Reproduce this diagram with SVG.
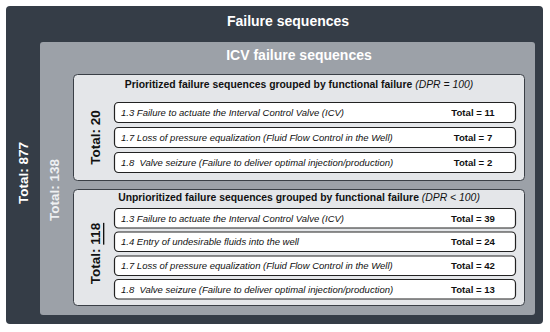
<svg xmlns="http://www.w3.org/2000/svg" width="550" height="332" viewBox="0 0 550 332">
<style>
text{font-family:"Liberation Sans",Arial,sans-serif}
.outer{fill:#353d47}
.gray{fill:#9ca1a8}
.group{fill:#e4e6e9;stroke:#3a3f46;stroke-width:1}
.row{fill:#ffffff;stroke:#222;stroke-width:1.2}
.t1{font-size:14px;font-weight:bold;fill:#fff;text-anchor:middle}
.tot{font-size:13.5px;font-weight:bold;text-anchor:middle;dominant-baseline:central}
.gt{font-size:10.4px;font-weight:bold;fill:#111;text-anchor:middle}
.it{font-style:italic;font-weight:normal}
.rt{font-size:9.5px;font-style:italic;fill:#111;white-space:pre}
.rv{font-size:9.6px;font-weight:bold;fill:#111;text-anchor:middle}
</style>
<g id="failure-sequences">
<rect class="outer" x="6" y="6" width="537" height="318" rx="4"/>
<text class="t1" x="288" y="26">Failure sequences</text>
<text class="tot" fill="#fff" transform="translate(23,173) rotate(-90)">Total: 877</text>
</g>
<g id="icv-failure-sequences">
<rect class="gray" x="40" y="42" width="495" height="273" rx="3"/>
<text class="t1" x="299" y="60">ICV failure sequences</text>
<text class="tot" fill="#eef0f2" transform="translate(54,190) rotate(-90)">Total: 138</text>
</g>
<g id="prioritized">
<rect class="group" x="73.5" y="74.5" width="451" height="106" rx="4"/>
<text class="gt" x="299" y="88">Prioritized failure sequences grouped by functional failure <tspan class="it">(DPR = 100)</tspan></text>
<text class="tot" fill="#111" transform="translate(95,137.5) rotate(-90)">Total: 20</text>
</g>
<g id="p-row1">
<rect class="row" x="114.5" y="102.5" width="401" height="20" rx="4"/>
<text class="rt" x="121" y="116">1.3 Failure to actuate the Interval Control Valve (ICV)</text>
<text class="rv" x="473" y="116">Total = 11</text>
</g>
<g id="p-row2">
<rect class="row" x="114.5" y="127.5" width="401" height="20" rx="4"/>
<text class="rt" x="121" y="141">1.7 Loss of pressure equalization (Fluid Flow Control in the Well)</text>
<text class="rv" x="473" y="141">Total = 7</text>
</g>
<g id="p-row3">
<rect class="row" x="114.5" y="152.5" width="401" height="20" rx="4"/>
<text class="rt" x="121" y="166">1.8  Valve seizure (Failure to deliver optimal injection/production)</text>
<text class="rv" x="473" y="166">Total = 2</text>
</g>
<g id="unprioritized">
<rect class="group" x="73.5" y="189.5" width="451" height="116" rx="4"/>
<text class="gt" x="299" y="201">Unprioritized failure sequences grouped by functional failure <tspan class="it">(DPR &lt; 100)</tspan></text>
<text class="tot" fill="#111" transform="translate(95,253.5) rotate(-90)">Total: <tspan text-decoration="underline">118</tspan></text>
</g>
<g id="u-row1">
<rect class="row" x="114.5" y="208.5" width="401" height="19.5" rx="4"/>
<text class="rt" x="121" y="221.5">1.3 Failure to actuate the Interval Control Valve (ICV)</text>
<text class="rv" x="473" y="221.5">Total = 39</text>
</g>
<g id="u-row2">
<rect class="row" x="114.5" y="232" width="401" height="19.5" rx="4"/>
<text class="rt" x="121" y="245">1.4 Entry of undesirable fluids into the well</text>
<text class="rv" x="473" y="245">Total = 24</text>
</g>
<g id="u-row3">
<rect class="row" x="114.5" y="256" width="401" height="19.5" rx="4"/>
<text class="rt" x="121" y="269">1.7 Loss of pressure equalization (Fluid Flow Control in the Well)</text>
<text class="rv" x="473" y="269">Total = 42</text>
</g>
<g id="u-row4">
<rect class="row" x="114.5" y="279.5" width="401" height="19.5" rx="4"/>
<text class="rt" x="121" y="292.5">1.8  Valve seizure (Failure to deliver optimal injection/production)</text>
<text class="rv" x="473" y="292.5">Total = 13</text>
</g>
<g id="connectors"></g>
</svg>
